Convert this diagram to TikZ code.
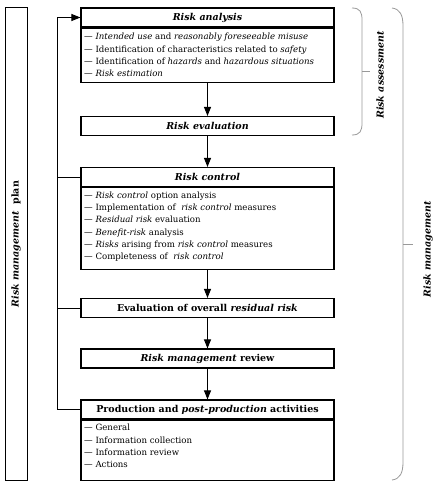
\documentclass[tikz,border=0pt]{standalone}
\usepackage{fontspec}
\setmainfont{DejaVu Serif}
\usetikzlibrary{arrows.meta}
\begin{document}
\begin{tikzpicture}[x=1pt,y=-1pt,
  box/.style={draw, line width=1.1pt, minimum width=253pt, inner sep=0pt},
  hdr/.style={box, minimum height=19pt, font=\fontsize{9.5}{12}\selectfont\bfseries},
  body/.style={box, anchor=north},
  items/.style={anchor=north west, inner sep=0pt, align=left, font=\fontsize{8.6}{12.3}\selectfont},
  arr/.style={line width=0.9pt, -{Triangle[length=9pt,width=7pt]}},
  conn/.style={line width=0.9pt},
  brace/.style={draw=black!40, line width=0.8pt},
  side/.style={rotate=90, font=\fontsize{9.5}{12}\selectfont\bfseries\itshape}
]
\useasboundingbox[fill=white] (0,0) rectangle (441,495);

% plan box
\node[draw, line width=1pt, minimum width=472pt, minimum height=22pt, rotate=90,
      font=\fontsize{9.5}{12}\selectfont\bfseries] (plan) at (16,244)
  {\textit{Risk management}\ \ plan};

% Risk analysis
\node[hdr] (ra) at (207.5,17.5) {\textit{Risk analysis}};
\node[body, minimum height=54pt] (rab) at (ra.south) {};
\node[items] (rat) at (84,33) {%
—\ \textit{Intended use} and \textit{reasonably foreseeable misuse}\\
—\ Identification of characteristics related to \textit{safety}\\
—\ Identification of \textit{hazards} and \textit{hazardous situations}\\
—\ \textit{Risk estimation}};

% Risk evaluation
\node[hdr] (re) at (207.5,126) {\textit{Risk evaluation}};

% Risk control
\node[hdr] (rc) at (207.5,177) {\textit{Risk control}};
\node[body, minimum height=82pt] (rcb) at (rc.south) {};
\node[items] (rct) at (84,191.5) {%
—\ \textit{Risk control} option analysis\\
—\ Implementation of \ \textit{risk control} measures\\
—\ \textit{Residual risk} evaluation\\
—\ \textit{Benefit-risk} analysis\\
—\ \textit{Risks} arising from \textit{risk control} measures\\
—\ Completeness of \ \textit{risk control}};

% Evaluation of overall residual risk
\node[hdr] (eo) at (207.5,308) {Evaluation of overall \textit{residual risk}};

% Risk management review
\node[hdr] (rmr) at (207.5,358.5) {\textit{Risk management} review};

% Production
\node[hdr] (pp) at (207.5,409.5) {Production and \textit{post-production} activities};
\node[body, minimum height=60pt] (ppb) at (pp.south) {};
\node[items] (ppt) at (84,424) {%
—\ General\\
—\ Information collection\\
—\ Information review\\
—\ Actions};

% main flow arrows
\draw[arr] (rab.south) -- (re.north);
\draw[arr] (re.south) -- (rc.north);
\draw[arr] (rcb.south) -- (eo.north);
\draw[arr] (eo.south) -- (rmr.north);
\draw[arr] (rmr.south) -- (pp.north);

% feedback line
\coordinate (fbtop) at (57,17.5);
\coordinate (fbbot) at (57,409.5);
\draw[conn] (pp.west) -- (fbbot) -- (fbtop);
\draw[arr] (fbtop) -- (ra.west);
\draw[conn] (rc.west) -- (rc.west -| fbtop);
\draw[conn] (eo.west) -- (eo.west -| fbtop);

% braces
\draw[brace] (352,8) .. controls (360,8) and (362,12) .. (362,20) -- (362,123)
  .. controls (362,131) and (360,135) .. (352,135);
\draw[brace] (362,71.5) -- (370,71.5);
\node[side] (ratxt) at (380,75) {Risk assessment};

\draw[brace] (392,8) .. controls (400,9) and (403,15) .. (403,26) -- (403,462)
  .. controls (403,473) and (400,479) .. (392,480);
\draw[brace] (403,244) -- (413,244);
\node[side] (rmtxt) at (428,249) {Risk management};
\end{tikzpicture}
\end{document}
